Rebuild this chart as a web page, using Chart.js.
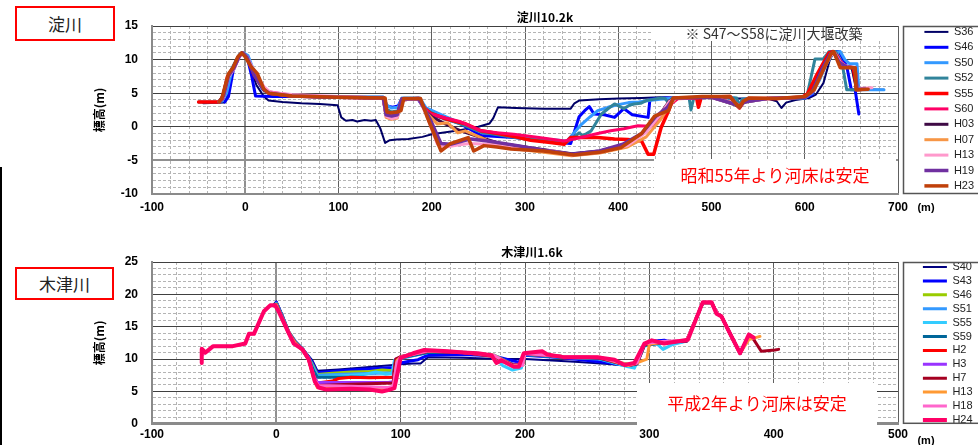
<!DOCTYPE html>
<html lang="ja">
<head>
<meta charset="utf-8">
<title>淀川・木津川 横断図</title>
<script src="https://cdn.jsdelivr.net/npm/chart.js@4.4.1/dist/chart.umd.min.js"></script>
<style>
  html, body { margin: 0; padding: 0; background: #fff; }
  #page { position: relative; width: 978px; height: 445px; overflow: hidden; }
  canvas { position: absolute; left: 0; }
  #yodo { top: 0; }
  #kizu { top: 220px; }
  .tag {
    position: absolute; box-sizing: border-box; border: 2px solid #f00; background: #fff;
    font: 17px "Noto Sans CJK JP", sans-serif; color: #222;
    display: flex; align-items: center; justify-content: center;
  }
  #edge { position: absolute; left: 0; top: 167px; width: 2px; height: 278px; background: #000; }
</style>
</head>
<body>
<div id="page">
  <canvas id="yodo" width="978" height="220"></canvas>
  <canvas id="kizu" width="978" height="225"></canvas>
  <div class="tag" style="left:15px;top:6px;width:100px;height:35px">淀川</div>
  <div class="tag" style="left:15px;top:267px;width:99px;height:33px">木津川</div>
  <div id="edge"></div>
</div>
<script>
// 淀川 10.2k 横断 : [距離(m), 標高(m)]

const yodoS36 = [[-45,3.5],[-22,3.6],[-19,4.6],[-14,8.0],[-8,10.2],[-4,10.9],[0,10.5],[5,9.0],[12,6.2],[20,4.5],[25,3.9],[40,3.7],[60,3.5],[80,3.4],[99,3.2],[103,1.4],[108,0.9],[115,1.0],[120,0.8],[128,1.0],[135,0.9],[140,1.0],[145,-0.3],[150,-2.4],[155,-2.0],[162,-1.9],[175,-1.8],[190,-1.5],[200,-1.1],[215,-0.8],[230,-0.5],[250,0.0],[262,0.5],[266,1.3],[271,2.9],[290,2.8],[320,2.7],[349,2.7],[353,3.5],[358,3.9],[380,4.1],[400,4.2],[425,4.3],[445,4.4],[470,4.3],[500,4.3],[530,4.2],[560,4.2],[570,3.8],[575,2.8],[580,3.6],[590,4.0],[605,4.3],[612,4.8],[620,6.5],[627,10.0],[631,11.0],[636,10.5],[642,9.0],[650,8.9],[655,5.6],[685,5.5]];
const yodoS46 = [[-22,3.7],[-18,4.5],[-13,8.3],[-7,10.4],[-3,11.0],[2,10.4],[7,7.5],[11,4.6],[30,4.5],[60,4.5],[100,4.4],[148,4.4],[152,3.1],[158,2.9],[164,3.1],[168,4.2],[185,4.2],[192,2.7],[205,1.6],[230,0.5],[253,-1.3],[288,-1.6],[320,-2.0],[342,-2.4],[349,-2.5],[358,1.5],[364,2.4],[369,3.0],[374,1.9],[385,1.8],[396,1.4],[406,2.7],[415,1.8],[432,1.4],[434,4.1],[450,4.3],[480,4.3],[500,4.4],[520,4.4],[527,3.3],[530,2.9],[534,3.5],[540,4.2],[570,4.2],[600,4.3],[608,4.8],[616,7.5],[625,10.5],[632,11.2],[637,11.2],[645,9.0],[650,5.5],[654,5.5],[658,1.9]];
const yodoS50 = [[-25,3.8],[-20,5.0],[-14,8.6],[-6,10.8],[-2,11.0],[3,10.6],[10,8.0],[18,5.6],[25,5.0],[50,4.6],[100,4.4],[148,4.4],[152,3.2],[157,2.8],[164,2.9],[168,4.3],[187,4.3],[194,2.8],[210,1.8],[240,0.0],[253,-0.8],[290,-1.3],[320,-1.8],[345,-2.1],[352,-1.0],[360,0.3],[370,1.5],[378,2.4],[389,2.9],[400,3.3],[411,3.6],[422,3.7],[433,3.9],[445,4.1],[460,4.3],[500,4.4],[525,4.3],[529,3.2],[533,4.1],[560,4.2],[600,4.3],[608,5.0],[616,7.0],[622,9.0],[630,11.0],[638,11.2],[643,10.0],[648,9.4],[656,9.4],[658,5.5],[685,5.5]];
const yodoS52 = [[-50,3.7],[-28,3.7],[-25,4.0],[-20,7.0],[-15,8.5],[-8,10.4],[-4,11.0],[1,10.6],[8,8.3],[18,5.8],[25,5.0],[50,4.6],[100,4.4],[148,4.4],[152,2.6],[157,2.2],[164,2.4],[168,4.2],[186,4.2],[194,2.5],[210,1.4],[235,0.2],[253,-0.8],[300,-1.8],[345,-2.3],[352,-1.6],[358,-0.9],[362,-1.3],[366,-1.0],[371,-0.6],[382,1.9],[390,2.8],[396,3.4],[402,3.0],[406,2.7],[412,3.2],[417,3.4],[424,3.5],[430,3.9],[446,4.3],[450,4.2],[454,3.6],[458,4.3],[476,4.3],[478,2.5],[481,4.3],[500,4.4],[527,4.3],[530,3.0],[533,4.1],[560,4.2],[598,4.3],[603,5.0],[611,10.1],[620,10.1],[626,11.2],[633,11.2],[640,9.5],[645,5.5],[660,5.5]];
const yodoS55 = [[-50,3.7],[-28,3.7],[-24,4.5],[-19,7.5],[-13,8.7],[-7,10.5],[-3,11.0],[2,10.3],[10,7.6],[20,5.5],[26,5.0],[50,4.6],[100,4.4],[148,4.3],[151,2.0],[156,1.5],[163,1.8],[168,4.1],[186,4.2],[192,2.8],[199,2.0],[215,1.2],[235,0.5],[253,-0.6],[271,-1.0],[290,-1.5],[306,-2.0],[325,-2.3],[342,-2.6],[349,-1.6],[365,-1.6],[378,-1.6],[396,-1.8],[410,-1.9],[425,-2.1],[432,-4.1],[438,-4.1],[446,-0.1],[454,2.4],[459,4.2],[484,4.3],[486,2.9],[489,4.4],[520,4.5],[527,3.2],[530,2.8],[534,3.6],[540,4.2],[570,4.2],[597,4.4],[603,4.9],[612,7.5],[620,9.5],[626,11.0],[630,11.2],[635,10.5],[640,9.0],[652,8.8],[656,5.5],[662,5.6]];
const yodoS60 = [[-28,3.7],[-24,4.2],[-19,7.3],[-13,8.5],[-7,10.4],[-3,10.9],[2,10.3],[10,7.8],[20,5.8],[25,5.2],[50,4.7],[100,4.4],[148,4.3],[151,1.8],[156,1.3],[163,1.5],[168,4.0],[186,4.2],[193,2.6],[199,1.9],[215,1.3],[230,0.8],[253,-0.6],[270,-0.9],[288,-1.1],[315,-1.6],[342,-2.1],[360,-1.6],[378,-1.0],[392,-0.6],[406,-0.3],[421,0.15],[435,0.1],[448,1.6],[457,3.4],[465,4.3],[500,4.4],[527,3.4],[530,3.0],[534,3.8],[560,4.2],[600,4.4],[608,5.2],[620,9.0],[628,10.8],[632,11.0],[638,9.8],[645,8.9],[654,8.8],[656,5.6],[665,5.7]];
const yodoH03 = [[-28,3.7],[-23,4.8],[-18,7.6],[-12,8.8],[-6,10.6],[-3,10.9],[2,10.2],[10,7.6],[20,5.5],[26,5.0],[50,4.6],[100,4.4],[148,4.3],[151,1.7],[157,1.4],[163,1.6],[168,4.0],[186,4.2],[194,2.2],[200,1.5],[215,0.4],[231,-0.6],[253,-1.6],[274,-2.5],[300,-3.0],[330,-3.6],[350,-4.0],[380,-3.6],[410,-2.6],[430,-0.7],[445,1.9],[455,3.9],[465,4.3],[500,4.4],[527,3.2],[530,2.9],[534,3.6],[560,4.2],[600,4.4],[608,5.2],[618,8.5],[627,10.8],[631,11.1],[637,9.5],[645,8.9],[654,8.8],[656,5.6],[665,5.6]];
const yodoH07 = [[-28,3.7],[-23,4.6],[-18,7.5],[-12,8.7],[-6,10.6],[-3,11.0],[2,10.3],[10,7.8],[20,5.6],[26,5.0],[50,4.6],[100,4.4],[148,4.3],[151,1.4],[157,1.1],[163,1.3],[168,4.0],[186,4.2],[195,2.0],[206,0.4],[217,0.6],[228,-0.9],[236,-0.6],[244,-1.1],[253,-1.6],[260,-2.1],[275,-2.8],[290,-3.3],[320,-3.8],[350,-4.3],[380,-3.9],[410,-3.0],[430,-1.5],[445,1.0],[455,3.2],[462,4.3],[500,4.4],[527,3.4],[530,3.0],[534,3.8],[560,4.2],[600,4.4],[610,5.4],[620,8.8],[628,10.9],[632,11.0],[638,9.4],[646,8.9],[654,8.8],[656,5.6],[665,5.6]];
const yodoH13 = [[-28,3.7],[-23,4.6],[-18,7.4],[-12,8.6],[-6,10.5],[-3,10.9],[2,10.4],[10,8.2],[20,6.0],[27,5.1],[50,4.8],[100,4.5],[148,4.3],[151,1.6],[157,1.2],[163,1.4],[168,4.0],[186,4.2],[195,1.5],[206,-2.6],[215,-3.0],[228,-2.7],[240,-2.5],[260,-2.6],[280,-3.0],[300,-3.4],[330,-3.6],[350,-4.2],[380,-3.8],[410,-2.8],[430,-0.8],[445,1.8],[455,3.8],[463,4.3],[500,4.4],[527,3.3],[530,2.9],[534,3.7],[560,4.2],[600,4.4],[610,5.4],[620,8.6],[628,10.6],[632,11.0],[638,9.6],[646,8.9],[654,8.8],[656,5.7],[672,5.8]];
const yodoH19 = [[-28,3.7],[-23,4.7],[-18,7.6],[-12,8.8],[-6,10.6],[-3,11.0],[2,10.3],[10,7.6],[20,5.5],[26,5.0],[50,4.6],[100,4.4],[148,4.3],[151,1.8],[157,1.6],[163,1.8],[168,4.1],[186,4.2],[198,1.2],[210,-2.5],[220,-2.6],[242,-1.8],[260,-2.1],[292,-2.8],[320,-3.5],[350,-4.1],[380,-3.6],[405,-2.6],[425,-1.0],[440,1.5],[452,2.8],[460,4.3],[500,4.4],[527,3.3],[530,2.9],[534,3.7],[560,4.2],[600,4.4],[608,5.2],[618,8.4],[627,10.8],[631,11.1],[637,9.6],[645,8.9],[654,8.8],[656,5.6],[665,5.6]];
const yodoH23 = [[-28,3.7],[-25,4.3],[-18,7.9],[-13,8.8],[-8,10.4],[-4,11.0],[0,10.4],[6,9.0],[13,7.9],[20,5.6],[25,5.0],[50,4.6],[100,4.4],[150,4.3],[152,2.2],[156,2.1],[163,2.2],[167,2.4],[170,4.2],[188,4.2],[195,1.5],[210,-3.6],[220,-2.5],[239,-1.6],[245,-3.6],[256,-2.8],[270,-3.0],[285,-3.3],[320,-3.6],[352,-4.2],[380,-3.8],[403,-3.1],[425,-1.0],[439,1.6],[454,2.4],[459,4.3],[490,4.5],[520,4.5],[527,3.3],[530,2.9],[534,3.8],[540,4.3],[570,4.2],[600,4.5],[610,5.5],[620,8.5],[628,10.8],[631,11.2],[638,8.8],[654,8.8],[655,5.5],[668,5.6]];

const yodoSeries = [yodoS36, yodoS46, yodoS50, yodoS52, yodoS55, yodoS60, yodoH03, yodoH07, yodoH13, yodoH19, yodoH23];
const yodoNames = ["S36", "S46", "S50", "S52", "S55", "S60", "H03", "H07", "H13", "H19", "H23"];
const yodoColors = ["#000066", "#0000ff", "#3399ff", "#31849b", "#ff0000", "#ff0066", "#3f0a45", "#f79646", "#ff99cc", "#7030a0", "#c0400a"];
const yodoWidths = [2, 3, 3, 3, 3.5, 3, 3, 3, 3, 3.5, 3.5];

// 木津川 1.6k 横断 : [距離(m), 標高(m)]

const kizuS40 = [[-2,18.5],[0,18.9],[5,16.8],[11,13.8],[16,12.5],[21,11.7],[26,10.5],[29,9.8],[33,8.2],[50,8.4],[70,8.7],[94,9.1],[100,9.2],[110,9.3],[116,9.3],[122,10.3],[150,10.2],[180,10.0],[200,10.0],[240,9.6],[270,9.2],[285,8.9],[290,9.5],[295,12.0],[300,12.6],[315,12.6],[330,12.8],[343,18.7],[350,18.7],[355,17.0],[358,16.6],[365,13.9],[373,10.9],[380,13.6]];
const kizuS43 = [[0,18.8],[5,16.6],[10,14.2],[15,12.8],[21,11.6],[26,10.3],[29,9.5],[33,7.9],[60,8.3],[94,8.7],[96,9.0],[100,9.4],[108,9.7],[114,9.9],[122,10.6],[150,10.7],[175,10.5],[185,10.0],[195,9.5],[200,10.6],[230,10.2],[260,9.6],[285,9.0],[290,9.8],[296,12.3],[305,12.8],[312,12.9],[320,12.5],[330,12.8],[343,18.7],[350,18.7],[355,17.0],[358,16.6],[365,13.9],[373,10.9],[380,13.6]];
const kizuS46 = [[0,18.6],[5,16.5],[10,14.2],[15,12.7],[21,11.6],[26,10.2],[30,8.8],[33,7.6],[45,7.8],[60,8.0],[75,8.1],[85,8.3],[94,8.2],[97,9.6],[100,10.2],[120,11.0],[150,11.0],[175,10.6],[190,9.2],[197,9.0],[200,10.8],[230,10.4],[260,10.1],[283,9.2],[290,9.4],[296,12.2],[310,12.6],[330,12.8],[343,18.7],[350,18.7],[355,17.0],[358,16.6],[365,13.9],[373,10.9],[380,13.6]];
const kizuS51 = [[0,18.6],[5,16.4],[10,14.1],[15,12.7],[21,11.6],[26,10.2],[30,8.6],[33,7.5],[60,7.7],[94,7.9],[96,9.6],[100,10.1],[110,10.5],[122,11.0],[150,11.1],[175,10.6],[185,9.6],[192,8.8],[197,8.8],[200,10.8],[230,10.4],[260,10.1],[283,9.0],[290,9.3],[296,12.2],[310,12.5],[330,12.8],[343,18.7],[350,18.7],[355,17.0],[358,16.6],[365,13.9],[373,10.9],[380,13.6]];
const kizuS55 = [[0,18.5],[5,16.3],[10,14.0],[15,12.6],[21,11.5],[26,10.1],[30,8.4],[33,7.3],[50,7.4],[70,7.6],[80,8.0],[88,7.7],[93,7.8],[95,9.8],[100,10.2],[122,11.0],[150,11.0],[175,10.5],[182,9.0],[190,8.3],[197,8.6],[200,10.7],[230,10.3],[260,10.0],[283,8.8],[288,8.6],[296,12.0],[306,12.4],[311,11.5],[318,12.2],[330,12.8],[343,18.7],[350,18.7],[355,17.0],[358,16.6],[365,13.9],[373,10.9],[380,13.6]];
const kizuS59 = [[0,18.5],[5,16.3],[10,14.0],[15,12.6],[21,11.5],[26,10.1],[30,8.2],[33,7.2],[60,7.2],[94,7.2],[96,9.8],[100,10.2],[122,11.0],[150,11.0],[175,10.5],[185,9.6],[193,9.0],[198,9.2],[200,10.7],[230,10.3],[260,10.1],[283,9.0],[290,9.2],[296,12.1],[310,12.5],[330,12.8],[343,18.7],[350,18.7],[355,17.0],[358,16.6],[365,13.9],[373,10.9],[380,13.6]];
const kizuH2 = [[0,18.4],[5,16.2],[10,14.0],[15,12.6],[21,11.5],[26,10.0],[30,7.5],[33,6.3],[45,6.6],[50,7.0],[60,7.2],[75,7.1],[94,7.2],[96,9.9],[100,10.3],[122,11.2],[150,11.0],[175,10.4],[185,9.5],[192,9.0],[198,9.3],[200,10.8],[230,10.4],[260,10.2],[283,9.0],[290,9.3],[296,12.2],[310,12.6],[330,12.8],[343,18.7],[350,18.7],[355,17.0],[358,16.6],[365,13.9],[373,10.9],[380,13.6]];
const kizuH3 = [[0,18.4],[5,16.2],[10,14.0],[15,12.5],[21,11.4],[26,9.9],[30,7.4],[33,6.4],[60,6.4],[90,6.4],[94,6.5],[96,10.0],[100,10.3],[122,11.2],[150,11.0],[175,10.5],[190,9.2],[198,9.2],[200,10.8],[230,10.4],[260,10.2],[283,9.0],[290,9.3],[296,12.3],[310,12.6],[330,12.8],[343,18.7],[350,18.7],[355,17.0],[358,16.6],[365,13.9],[373,10.9],[380,13.6]];
const kizuH7 = [[0,18.4],[5,16.2],[10,14.0],[15,12.5],[21,11.4],[26,9.9],[30,7.2],[33,5.9],[60,6.1],[94,6.3],[96,10.0],[100,10.4],[122,11.2],[150,11.0],[175,10.5],[190,9.1],[198,9.1],[200,10.9],[230,10.4],[260,10.2],[283,9.0],[290,9.3],[296,12.3],[310,12.6],[330,12.8],[343,18.7],[350,18.7],[355,17.0],[358,16.6],[365,13.9],[373,10.9],[380,13.6],[384,13.0],[390,11.2],[401,11.4],[404,11.5]];
const kizuH13 = [[0,18.4],[5,16.1],[10,14.0],[15,12.5],[21,11.4],[26,9.9],[30,7.0],[33,5.6],[60,5.5],[90,5.3],[94,5.5],[97,9.8],[100,10.3],[122,11.3],[150,11.1],[175,10.6],[190,9.0],[198,9.1],[200,10.9],[230,10.4],[260,10.3],[283,9.0],[290,9.4],[298,10.0],[300,12.3],[310,12.6],[330,12.9],[343,18.7],[350,18.7],[355,17.0],[358,16.6],[365,13.9],[373,10.9],[380,13.0],[389,13.5]];
const kizuH18 = [[-60,10.6],[-55,11.2],[-50,12.0],[-35,12.0],[-25,12.3],[-22,13.8],[-18,13.9],[-10,17.3],[-5,18.2],[-1,18.3],[2,17.4],[9,14.5],[14,12.5],[21,11.5],[26,10.0],[31,6.8],[34,5.9],[60,5.8],[90,5.6],[94,5.8],[97,9.5],[100,10.3],[122,11.3],[150,11.1],[175,10.6],[190,8.9],[198,9.0],[200,10.9],[230,10.4],[260,10.3],[283,9.1],[290,9.4],[296,12.4],[310,12.7],[330,12.9],[343,18.7],[350,18.7],[355,17.0],[358,16.6],[365,13.9],[373,10.9],[380,13.6]];
const kizuH24 = [[-60,9.4],[-60,11.6],[-57,11.0],[-51,12.0],[-35,12.0],[-25,12.4],[-22,13.9],[-18,13.9],[-10,17.4],[-5,18.3],[-1,18.3],[2,17.3],[9,14.4],[14,12.4],[21,11.5],[26,10.0],[31,6.5],[34,5.6],[40,5.3],[60,5.4],[75,5.3],[85,5.0],[90,5.2],[95,5.5],[100,10.2],[110,10.9],[119,11.4],[138,11.2],[150,11.0],[162,10.9],[173,10.6],[177,9.4],[181,9.8],[185,9.4],[191,8.8],[195,8.8],[199,10.9],[214,11.2],[218,10.7],[231,10.3],[258,10.3],[272,9.9],[280,9.1],[288,9.4],[296,12.4],[302,12.9],[312,12.4],[331,13.0],[343,18.8],[350,18.8],[354,17.0],[358,16.6],[365,13.9],[373,10.9],[380,13.8],[384,13.3]];

const kizuSeries = [kizuS40, kizuS43, kizuS46, kizuS51, kizuS55, kizuS59, kizuH2, kizuH3, kizuH7, kizuH13, kizuH18, kizuH24];
const kizuNames = ["S40", "S43", "S46", "S51", "S55", "S59", "H2", "H3", "H7", "H13", "H18", "H24"];
const kizuColors = ["#000080", "#0000ff", "#99cc00", "#3399ff", "#33ccff", "#006699", "#ff0000", "#9933ff", "#a50021", "#ff9933", "#ff66cc", "#ff0066"];
const kizuWidths = [2, 3, 3, 3, 3, 3, 3, 3, 3, 3, 3, 4];

const tickFont = { family: "Liberation Sans", size: 12, weight: "bold" };

function makeSets(series, names, colors, widths) {
    return series.map((pts, i) => ({
        label: names[i],
        data: pts.map(p => ({ x: p[0], y: p[1] })),
        showLine: true,
        borderColor: colors[i],
        backgroundColor: colors[i],
        borderWidth: widths[i],
        pointRadius: 0,
        pointHoverRadius: 0,
        pointBorderWidth: widths[i],
        pointBorderColor: colors[i],
        borderJoinStyle: "round",
        borderCapStyle: "round",
        tension: 0,
        order: series.length - i
    }));
}

// titles, notes, legend frame
const decor = {
    id: "decor",
    afterLayout(chart, args, o) {
        const lg = chart.legend;
        lg.left = 920;
        lg.top = chart.chartArea.top - o.legendShift;
        lg.bottom = chart.height + 60;
    },
    beforeDatasetsDraw(chart, args, o) {
        const ctx = chart.ctx;
        ctx.save();
        o.boxes.forEach(b => {
            ctx.fillStyle = "#fff";
            ctx.fillRect(b.x, b.y, b.w, b.h);
            ctx.fillStyle = b.color;
            ctx.font = b.font;
            ctx.textAlign = "center";
            ctx.textBaseline = "middle";
            ctx.fillText(b.text, b.x + b.w / 2, b.y + b.h / 2);
        });
        ctx.restore();
    },
    afterDraw(chart, args, o) {
        const ctx = chart.ctx;
        const area = chart.chartArea;
        ctx.save();
        ctx.fillStyle = "#000";
        ctx.textAlign = "center";
        ctx.textBaseline = "middle";
        ctx.font = 'bold 12px "Noto Sans CJK JP"';
        ctx.fillText(o.title, o.titleX, o.titleY);
        ctx.font = 'bold 11px "Liberation Sans"';
        ctx.fillText("(m)", o.unitX, o.unitY);
        ctx.strokeStyle = "#555";
        ctx.lineWidth = 1.5;
        ctx.strokeRect(903.5, area.top + 0.5, 120, area.height - 1);
        ctx.restore();
    }
};

function makeChart(id, cfg) {
    return new Chart(document.getElementById(id), {
        type: "scatter",
        data: { datasets: makeSets(cfg.series, cfg.names, cfg.colors, cfg.widths) },
        plugins: [decor],
        options: {
            responsive: false,
            animation: false,
            events: [],
            layout: { padding: { left: 88, top: cfg.padTop, right: 0, bottom: 0 } },
            scales: {
                x: {
                    type: "linear",
                    min: cfg.xMin,
                    max: cfg.xMax,
                    afterFit: s => { s.height = cfg.xAxisH; },
                    ticks: {
                        stepSize: 20,
                        autoSkip: false,
                        maxRotation: 0,
                        padding: cfg.xPad,
                        color: "#000",
                        font: tickFont,
                        callback: v => (v % 100 === 0 ? String(v) : "")
                    },
                    grid: {
                        drawTicks: false,
                        color: c => {
                            if (!c.tick) return "#bbb";
                            if (c.tick.value === 0) return "#909090";
                            return c.tick.value % 100 === 0 ? "#606060" : "#b4b4b4";
                        },
                        lineWidth: c => (c.tick && c.tick.value === 0 ? 2 : 1)
                    },
                    border: {
                        color: "#8a8a8a",
                        width: cfg.xBorder,
                        dash: c => (c.tick && c.tick.value % 100 !== 0 ? [3, 2] : [])
                    }
                },
                y: {
                    type: "linear",
                    min: cfg.yMin,
                    max: cfg.yMax,
                    afterFit: s => { s.width = 64; },
                    title: {
                        display: true,
                        text: "標高(m)",
                        color: "#000",
                        font: { family: "Noto Sans CJK JP", size: 12, weight: "bold" },
                        padding: { top: 4, bottom: 0 }
                    },
                    ticks: {
                        stepSize: 1,
                        autoSkip: false,
                        padding: 14,
                        color: "#000",
                        font: tickFont,
                        callback: v => (v % 5 === 0 ? String(v) : "")
                    },
                    grid: {
                        drawTicks: false,
                        color: c => {
                            if (!c.tick) return "#bbb";
                            if (c.tick.value === cfg.grayLine) return "#909090";
                            return c.tick.value % 5 === 0 ? "#404040" : "#b4b4b4";
                        },
                        lineWidth: c => (c.tick && c.tick.value === cfg.grayLine ? 2 : 1)
                    },
                    border: {
                        color: "#8a8a8a",
                        width: 2,
                        dash: c => (c.tick && c.tick.value % 5 !== 0 ? [3, 2] : [])
                    }
                }
            },
            plugins: {
                tooltip: { enabled: false },
                legend: {
                    position: "right",
                    align: "start",
                    fullSize: false,
                    labels: {
                        usePointStyle: true,
                        pointStyle: "line",
                        pointStyleWidth: 24,
                        padding: cfg.legendPad,
                        color: "#222",
                        font: { family: "Liberation Sans", size: 11 },
                        sort: (a, b) => a.datasetIndex - b.datasetIndex
                    }
                },
                decor: cfg.decor
            }
        }
    });
}

// fixed legend width so the plot area ends where the reference does
function widenLegend(chart) {
    const lg = chart.legend;
    const fit = lg.fit;
    lg.fit = function () { fit.call(this); this.width = 80; };
    chart.update();
}

const yodoChart = makeChart("yodo", {
    series: yodoSeries, names: yodoNames, colors: yodoColors, widths: yodoWidths,
    xMin: -100, xMax: 700, yMin: -10, yMax: 15,
    padTop: 26, xAxisH: 26, xPad: 6, xBorder: 2, grayLine: -5, legendPad: 4.4,
    decor: {
        legendShift: 4,
        title: "淀川10.2k", titleX: 545, titleY: 17, unitX: 926, unitY: 208,
        boxes: [
            { x: 652, y: 27, w: 244, h: 14, text: "※ S47～S58に淀川大堰改築", color: "#333", font: '14px "Noto Sans CJK JP"' },
            { x: 654, y: 159, w: 242, h: 34, text: "昭和55年より河床は安定", color: "#ff0000", font: '17px "Noto Sans CJK JP"' }
        ]
    }
});

const kizuChart = makeChart("kizu", {
    series: kizuSeries, names: kizuNames, colors: kizuColors, widths: kizuWidths,
    xMin: -100, xMax: 500, yMin: 0, yMax: 25,
    padTop: 42, xAxisH: 18, xPad: 4, xBorder: 3, grayLine: null, legendPad: 2.9,
    decor: {
        legendShift: 3.4,
        title: "木津川1.6k", titleX: 532, titleY: 32, unitX: 926, unitY: 221,
        boxes: [
            { x: 637, y: 163, w: 240, h: 42, text: "平成2年より河床は安定", color: "#ff0000", font: '17px "Noto Sans CJK JP"' }
        ]
    }
});

widenLegend(yodoChart);
widenLegend(kizuChart);
</script>
</body>
</html>
